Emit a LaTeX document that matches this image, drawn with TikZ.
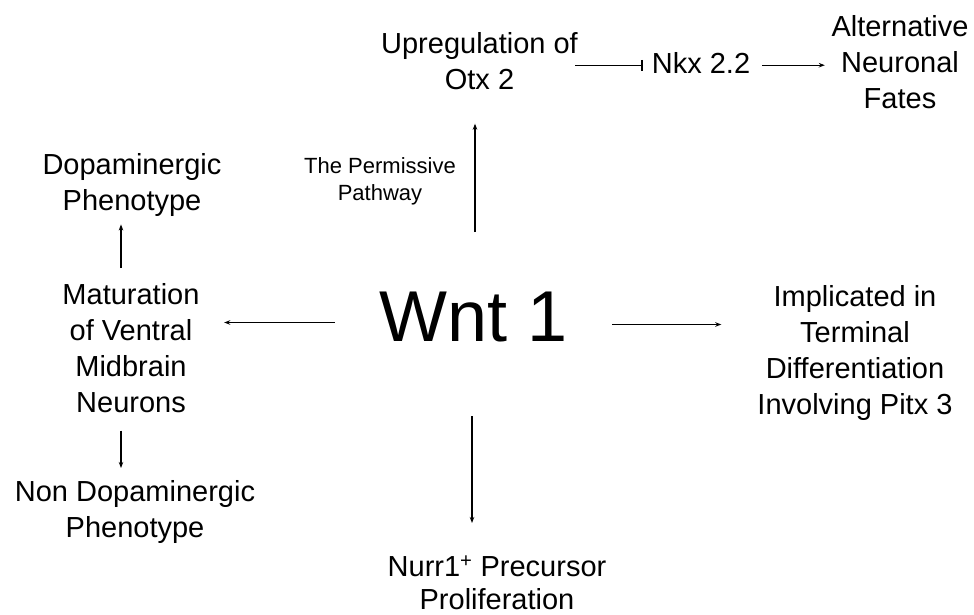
\documentclass[tikz,border=0pt]{standalone}
\usepackage{fontspec}
\setmainfont{Liberation Sans}
\usetikzlibrary{arrows.meta,calc}
\begin{document}
\begin{tikzpicture}[x=1pt,y=-1pt,
  lbl/.style={inner sep=0pt,anchor=north,align=center,font=\fontsize{29}{36}\selectfont},
  small/.style={inner sep=0pt,anchor=north,align=center,font=\fontsize{22}{27}\selectfont},
  big/.style={inner sep=0pt,anchor=north,font=\fontsize{72}{78}\selectfont},
  arr/.style={line width=1.3pt,-{Stealth[length=6pt,width=4.5pt]}},
  inh/.style={line width=1.3pt,-{Bar[width=11pt,line width=1.3pt]}}]
\useasboundingbox (0,0) rectangle (974,615);
\node[lbl] (upreg) at (479.5,32) {Upregulation of\\Otx 2};
\node[lbl] (nkx) at (701,52) {Nkx 2.2};
\node[lbl] (alt) at (900,15) {Alternative\\Neuronal\\Fates};
\node[small] (perm) at (380,157) {The Permissive\\Pathway};
\node[lbl] (dop) at (132,153) {Dopaminergic\\Phenotype};
\node[lbl] (mat) at (131,283) {Maturation\\of Ventral\\Midbrain\\Neurons};
\node[big] (wnt) at (473.5,292) {Wnt 1};
\node[lbl] (impl) at (855,285) {Implicated in\\Terminal\\Differentiation\\Involving Pitx 3};
\node[lbl] (non) at (135,480) {Non Dopaminergic\\Phenotype};
\node[lbl,font=\fontsize{29}{33}\selectfont] (nurr) at (497,556) {Nurr1\textsuperscript{+} Precursor\\Proliferation};
% connectors
\draw[arr] ($(wnt.north)+(1.5,-60)$) -- ($(wnt.north |- upreg.south)+(1.5,34)$);
\draw[arr] ($(wnt.west)+(-44.5,5.25)$) -- ($(wnt.west -| mat.east)+(24.5,5.25)$);
\draw[arr] ($(wnt.east)+(44.5,7.25)$) -- ($(wnt.east -| impl.west)+(-36,7.25)$);
\draw[arr] ($(wnt.south)+(-1.5,73.5)$) -- ($(wnt.south |- nurr.north)+(-1.5,-33)$);
\draw[inh] ($(upreg.east)+(-3,4.5)$) -- ($(upreg.east -| nkx.west)+(-9,4.5)$);
\draw[arr] ($(nkx.east)+(12,2.5)$) -- ($(nkx.east -| alt.west)+(-6.5,2.5)$);
\draw[arr] ($(mat.north)+(-10,-15)$) -- ($(mat.north |- dop.south)+(-10,8)$);
\draw[arr] ($(mat.south)+(-10,18)$) -- ($(mat.south |- non.north)+(-10,-12)$);
\end{tikzpicture}
\end{document}
